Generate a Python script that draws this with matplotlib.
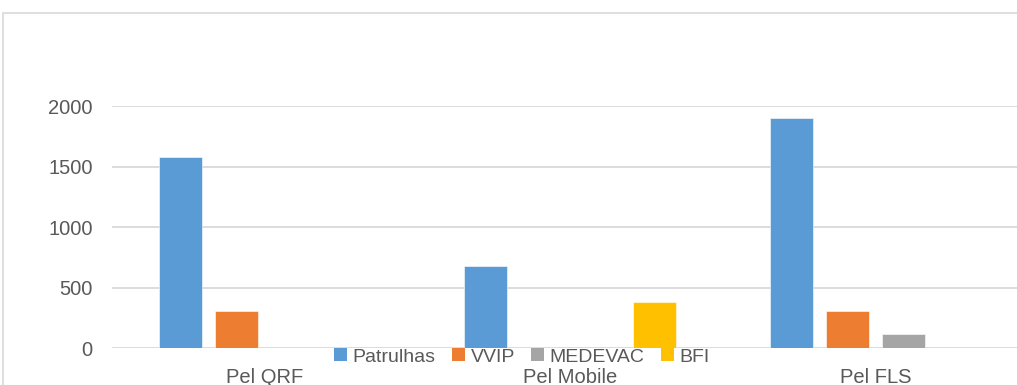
import matplotlib
matplotlib.use("Agg")
import matplotlib.pyplot as plt
from matplotlib.patches import Rectangle, Patch
import numpy as np

plt.rcParams['font.family'] = ['Liberation Sans', 'DejaVu Sans']

categories = ["Pel QRF", "Pel Mobile", "Pel FLS"]
series_names = ["Patrulhas", "VVIP", "MEDEVAC", "BFI"]
patrulhas = [1580, 680, 1900]
vvip = [305, 0, 305]
medevac = [0, 0, 120]
bfi = [0, 385, 0]
yticks = [0, 500, 1000, 1500, 2000]

colors = ["#5B9BD5", "#ED7D31", "#A5A5A5", "#FFC000"]
text_color = "#595959"
grid_color = "#D9D9D9"
fs = 14.5

W, H = 1017, 385
fig = plt.figure(figsize=(W / 100, H / 100), dpi=100)

# chart-area frame
fig.patches.append(Rectangle((3 / W, -0.2), 1.2, (H - 13) / H + 0.2,
                             transform=fig.transFigure, fill=False,
                             edgecolor=grid_color, linewidth=1.2))

ax_left, ax_right = 112, 1028.5
ax_bottom, ax_top = 348.3, 106
ax = fig.add_axes([ax_left / W, (H - ax_bottom) / H,
                   (ax_right - ax_left) / W, (ax_bottom - ax_top) / H])

x = np.arange(len(categories))
slot = 0.184
width = 0.141
all_series = [patrulhas, vvip, medevac, bfi]
handles = []
for i, (name, vals, c) in enumerate(zip(series_names, all_series, colors)):
    ax.bar(x + (i - 1.5) * slot, vals, width, color=c, zorder=3,
           edgecolor="white", linewidth=0.4)
    handles.append(Patch(facecolor=c, edgecolor="none", label=name))

ax.set_xlim(-0.5, 2.5)
ax.set_ylim(0, 2000)
ax.set_yticks(yticks)
ax.set_yticklabels([str(v) for v in yticks])
ax.set_xticks(x)
ax.set_xticklabels(categories)
ax.yaxis.grid(True, color=grid_color, linewidth=1.3, zorder=0)
ax.set_axisbelow(True)
for s in ax.spines.values():
    s.set_visible(False)
ax.tick_params(axis="both", length=0, colors=text_color, labelsize=fs)
ax.tick_params(axis="y", pad=14)
ax.tick_params(axis="x", pad=14)

fig.legend(handles=handles, loc="center", bbox_to_anchor=(522 / W, (H - 357) / H),
           ncol=4, frameon=False, fontsize=14, labelcolor=text_color,
           handlelength=0.65, handleheight=0.65, handletextpad=0.3,
           columnspacing=0.85, borderpad=0)

fig.savefig("out.png", dpi=100, facecolor="white")
